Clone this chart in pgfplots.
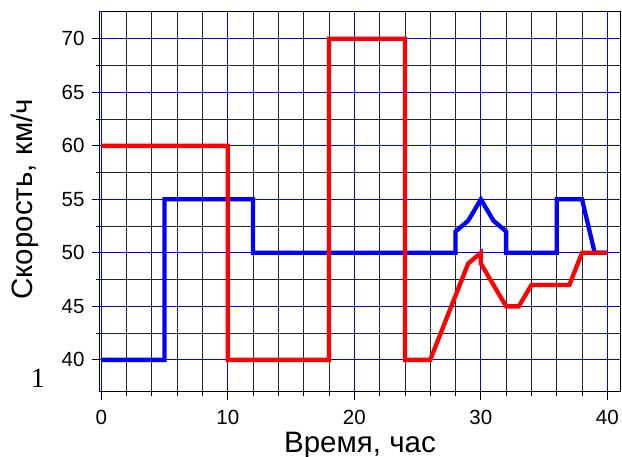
\documentclass[border=0pt]{standalone}
\usepackage{fontspec}
\setmainfont{Liberation Sans}
\newfontfamily\seriffont{Liberation Serif}
\usepackage{pgfplots}
\pgfplotsset{compat=1.18}
\begin{document}
\begin{tikzpicture}[x=1pt,y=1pt]
\path[use as bounding box] (-100,-65) rectangle (522,392);
\begin{axis}[
  scale only axis,
  width=520pt, height=380pt,
  xmin=-0.1, xmax=41,
  ymin=37, ymax=72.5,
  xtick={0,10,20,30,40},
  ytick={40,45,50,55,60,65,70},
  minor x tick num=4,
  minor y tick num=1,
  grid=both,
  major grid style={blue, line width=0.8pt},
  minor grid style={black!85, line width=0.8pt},
  tick pos=left,
  tick align=outside,
  major tick length=8pt,
  minor tick length=4pt,
  every tick/.style={black, line width=0.8pt},
  axis line style={black, line width=1pt},
  /pgf/number format/assume math mode=true,
  ticklabel style={font=\fontsize{20.5}{24}\selectfont},
  xticklabel style={yshift=-7pt},
  yticklabel style={xshift=-4pt},
  xlabel={Время, час},
  ylabel={Скорость, км/ч},
  xlabel style={font=\fontsize{29.5}{32}\selectfont, at={(axis description cs:0.5,-0.158)}, anchor=base},
  ylabel style={font=\fontsize{29.5}{32}\selectfont, at={(axis description cs:-0.145,0.507)}, anchor=center},
]
\addplot[blue, line width=4.3pt] coordinates {
  (0,40) (5,40) (5,55) (12,55) (12,50) (28,50) (28,52) (29,53) (30,55) (31,53) (32,52) (32,50) (36,50) (36,55) (38,55) (39,50) (40,50)
};
\addplot[red, line width=4.3pt] coordinates {
  (0,60) (10,60) (10,40) (18,40) (18,70) (24,70) (24,40) (26,40) (29,49) (30,50) (30,49) (32,45) (33,45) (34,47) (37,47) (38,50) (40,50)
};
\end{axis}
\node[font=\seriffont\fontsize{28}{30}\selectfont] at (-62,14) {1};
\end{tikzpicture}
\end{document}
